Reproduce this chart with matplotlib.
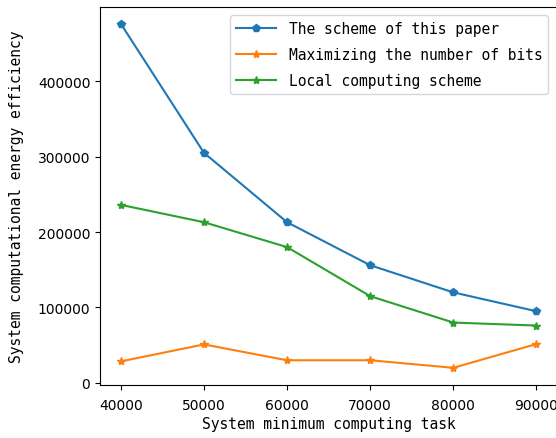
import matplotlib
matplotlib.use("Agg")
import matplotlib.pyplot as plt

x = [40000, 50000, 60000, 70000, 80000, 90000]
paper = [476000, 305000, 213000, 156000, 120000, 95000]
max_bits = [28500, 51000, 30000, 30000, 20000, 51500]
local = [236000, 213000, 180000, 115000, 80000, 76000]
labels = ["The scheme of this paper", "Maximizing the number of bits", "Local computing scheme"]
xlabel = "System minimum computing task"
ylabel = "System computational energy efficiency"

mono = "DejaVu Sans Mono"
fig = plt.figure(figsize=(5.56, 4.39), dpi=100)
ax = fig.add_axes([0.18, 0.1207, 0.822, 0.862])
ax.plot(x, paper, marker="p", color="#1f77b4", label=labels[0])
ax.plot(x, max_bits, marker="*", color="#ff7f0e", label=labels[1])
ax.plot(x, local, marker="*", color="#2ca02c", label=labels[2])
ax.set_xlabel(xlabel, fontsize=10.5, family=mono, labelpad=3)
ax.set_ylabel(ylabel, fontsize=10.5, family=mono, labelpad=10)
ax.tick_params(labelsize=10)
ax.tick_params(axis="x", pad=6)
leg = ax.legend(loc="upper right", prop={"family": mono, "size": 10.5},
                handlelength=2.7, handletextpad=0.9, labelspacing=0.75,
                borderaxespad=0.6)
fig.savefig("out.png", dpi=100)
